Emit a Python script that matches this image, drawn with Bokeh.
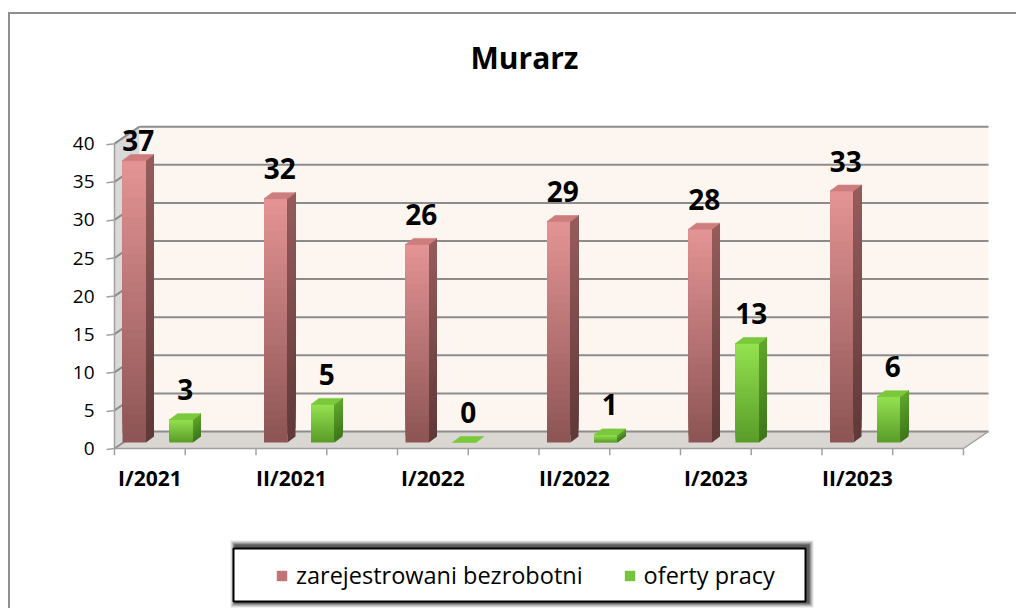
from bokeh.plotting import figure
from bokeh.layouts import column
from bokeh.models import ColumnDataSource, FixedTicker, Legend, LegendItem, Range1d
from bokeh.embed import file_html
from bokeh.resources import INLINE
from bokeh.core.properties import value

# ---------------- data ----------------
categories = ["I/2021", "II/2021", "I/2022", "II/2022", "I/2023", "II/2023"]
registered = [37, 32, 26, 29, 28, 33]
offers = [3, 5, 0, 1, 13, 6]
series_names = ["zarejestrowani bezrobotni", "oferty pracy"]
y_ticks = [0, 5, 10, 15, 20, 25, 30, 35, 40]
chart_title = "Murarz"

# ---------------- geometry (pixels -> data units) ----------------
PX_X = 141.5   # px per category
PX_Y = 7.62    # px per unit
def dx(px):
    return px / PX_X
def dy(px):
    return px / PX_Y

FONT = "Open Sans"
n_cat = len(categories)
y_max = y_ticks[-1]
wall_dx, wall_dy = dx(25), dy(17)      # depth of the floor / walls
bar_dx, bar_dy = dx(8), dy(6)          # offset of bar front from front plane
dep_dx, dep_dy = dx(8), dy(6)          # depth of each bar
bar_w = dx(23.5)

W = 1006
p = figure(frame_width=895, frame_height=370,
           x_range=Range1d(dx(105 - 114), dx(1000 - 114)),
           y_range=Range1d(dy(448 - 455), dy(448 - 85)),
           output_backend="svg", toolbar_location=None,
           min_border_left=95, min_border_right=16,
           min_border_top=71, min_border_bottom=55,
           title=chart_title)
p.background_fill_color = "white"
p.border_fill_color = "white"
p.outline_line_color = None
p.xgrid.visible = False
p.ygrid.visible = False

p.title.text_font = FONT
p.title.text_font_size = "30px"
p.title.text_font_style = "bold"
p.title.text_color = "black"
p.title.align = "left"
p.title.offset = 365
p.title.standoff = 16

# ---------------- 3D backdrop ----------------
p.quad(left=[wall_dx], right=[n_cat + wall_dx], bottom=[wall_dy], top=[y_max + wall_dy],
       fill_color="#fdf6f0", line_color=None)
p.patch([0, wall_dx, wall_dx, 0], [0, wall_dy, y_max + wall_dy, y_max],
        fill_color="#d9d9d9", line_color=None)
p.patch([0, n_cat, n_cat + wall_dx, wall_dx], [0, 0, wall_dy, wall_dy],
        fill_color="#dad6d2", line_color=None)

gx0, gy0, gx1, gy1 = [], [], [], []
for v in y_ticks:
    gx0 += [wall_dx, 0]
    gy0 += [v + wall_dy, v]
    gx1 += [n_cat + wall_dx, wall_dx]
    gy1 += [v + wall_dy, v + wall_dy]
p.segment(gx0, gy0, gx1, gy1, line_color="#8c8c8c", line_width=2)

p.segment([0, 0, n_cat], [0, 0, 0], [n_cat, 0, n_cat + wall_dx], [0, y_max, wall_dy],
          line_color="#a0a0a0", line_width=1.5)
p.segment([-dx(8)] * len(y_ticks), [v - dy(1) for v in y_ticks],
          [0] * len(y_ticks), y_ticks, line_color="#a0a0a0", line_width=1.5)
half = [k / 2 for k in range(2 * n_cat + 1)]
p.segment(half, [0] * len(half), half, [-dy(7)] * len(half),
          line_color="#a0a0a0", line_width=1.5)

# ---------------- bars ----------------
def hexc(c):
    return "#%02x%02x%02x" % tuple(int(round(x)) for x in c)

def mix(c_top, c_bot, t):
    return hexc([b + (a - b) * t for a, b in zip(c_top, c_bot)])

styles = [
    dict(off=0.0, front_top=(228, 148, 148), front_bot=(140, 84, 84),
         side_top=(150, 92, 92), side_bot=(96, 56, 56), top=(205, 125, 125),
         legend=(196, 116, 116)),
    dict(off=dx(47), front_top=(148, 226, 80), front_bot=(88, 156, 40),
         side_top=(96, 166, 44), side_bot=(60, 118, 26), top=(122, 200, 60),
         legend=(116, 196, 60)),
]
values_list = [registered, offers]
N = 30
label_x, label_y, label_t = [], [], []
label_cap = dy(448 - 140)

for vals, st in zip(values_list, styles):
    fl, fr, fb, ft, fc = [], [], [], [], []
    sxs, sys_, sc = [], [], []
    txs, tys = [], []
    for i, v in enumerate(vals):
        x0 = i + st["off"] + bar_dx
        x1 = x0 + bar_w
        y0 = bar_dy
        if v > 0:
            for k in range(N):
                b = y0 + v * k / N
                t = y0 + v
                tt = (k + 0.5) / N
                fl.append(x0); fr.append(x1); fb.append(b); ft.append(t)
                fc.append(mix(st["front_top"], st["front_bot"], tt))
                sxs.append([x1, x1 + dep_dx, x1 + dep_dx, x1])
                sys_.append([b, b + dep_dy, t + dep_dy, t])
                sc.append(mix(st["side_top"], st["side_bot"], tt))
        txs.append([x0, x1, x1 + dep_dx, x0 + dep_dx])
        tys.append([y0 + v, y0 + v, y0 + v + dep_dy, y0 + v + dep_dy])
        label_x.append(x0 + bar_w / 2 + dx(4))
        label_y.append(min(v + y0 + dy(30), label_cap))
        label_t.append(str(v))
    fsrc = ColumnDataSource(dict(left=fl, right=fr, bottom=fb, top=ft, color=fc))
    p.quad(left="left", right="right", bottom="bottom", top="top", source=fsrc,
           fill_color="color", line_color=None)
    ssrc = ColumnDataSource(dict(xs=sxs, ys=sys_, color=sc))
    p.patches("xs", "ys", source=ssrc, fill_color="color", line_color=None)
    p.patches(txs, tys, fill_color=hexc(st["top"]), line_color=hexc(st["top"]), line_width=0.6)

p.text(x=label_x, y=label_y, text=label_t, text_font=value(FONT), text_font_style="bold",
       text_font_size="28px", text_align="center", text_baseline="middle", text_color="black")

# ---------------- axes ----------------
p.yaxis.ticker = FixedTicker(ticks=y_ticks)
p.yaxis.axis_line_color = None
p.yaxis.major_tick_line_color = None
p.yaxis.minor_tick_line_color = None
p.yaxis.major_label_standoff = 5
p.yaxis.major_label_text_font = FONT
p.yaxis.major_label_text_font_size = "19px"
p.yaxis.major_label_text_color = "black"

cat_pos = [i + 0.25 for i in range(n_cat)]
p.xaxis.ticker = FixedTicker(ticks=cat_pos)
p.xaxis.major_label_overrides = {pos: lab for pos, lab in zip(cat_pos, categories)}
p.xaxis.axis_line_color = None
p.xaxis.major_tick_line_color = None
p.xaxis.minor_tick_line_color = None
p.xaxis.major_label_standoff = 2
p.xaxis.major_label_text_font = FONT
p.xaxis.major_label_text_font_size = "21px"
p.xaxis.major_label_text_font_style = "bold"
p.xaxis.major_label_text_color = "black"

# ---------------- legend strip (frame aligned with the chart frame) ----------------
LH = 98
FRAME_L, FRAME_R = 105, 1000
p2 = figure(width=W, height=LH, x_range=Range1d(FRAME_L, FRAME_R), y_range=Range1d(0, LH),
            output_backend="svg", toolbar_location=None, min_border=0)
p2.axis.visible = False
p2.xgrid.visible = False
p2.ygrid.visible = False
p2.outline_line_color = None
p2.background_fill_color = "white"
p2.border_fill_color = "white"

box_l, box_r, box_b, box_t = 233, 805, 7, 60
for k, a in enumerate([0.10, 0.12, 0.16, 0.22, 0.30]):
    g = 5 - k
    p2.quad(left=[box_l + 2 - g], right=[box_r + 3 + g], bottom=[box_b - 1 - g],
            top=[box_t + 3 + g], fill_color="black", fill_alpha=a, line_color=None)
p2.quad(left=[box_l], right=[box_r], bottom=[box_b], top=[box_t],
        fill_color="white", line_color="black", line_width=2)

nan = float("nan")
leg_renderers = [p2.quad(left=[nan], right=[nan], bottom=[nan], top=[nan],
                         fill_color=hexc(st["legend"]), line_color=None) for st in styles]
items = [LegendItem(label=name, renderers=[r])
         for name, r in zip(series_names, leg_renderers)]
legend = Legend(items=items, orientation="horizontal",
                location=(277 - FRAME_L - 2, box_b + 10))
legend.label_text_font = FONT
legend.label_text_font_size = "23.5px"
legend.label_text_color = "black"
legend.glyph_width = 13
legend.glyph_height = 13
legend.label_standoff = 8
legend.spacing = 40
legend.padding = 10
legend.margin = 0
legend.border_line_color = None
legend.background_fill_alpha = 0
p2.add_layout(legend)

layout = column(p, p2, spacing=0,
                styles={"margin-left": "8px", "margin-top": "12px",
                        "border-top": "2px solid #8f8f8f",
                        "border-left": "2px solid #8f8f8f"})
open("out.html", "w").write(file_html(layout, INLINE))
